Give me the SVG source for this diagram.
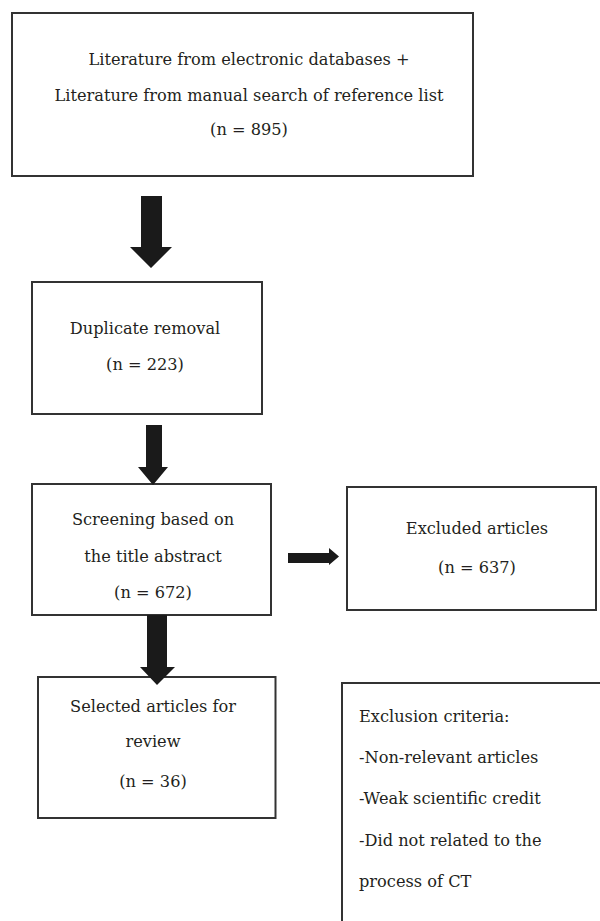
<svg xmlns="http://www.w3.org/2000/svg" width="600" height="921" viewBox="0 0 600 921">
<style>
.box{fill:#fff;stroke:#333;stroke-width:2}
text{font-family:"DejaVu Serif","Liberation Serif",serif;font-size:16.2px;fill:#231f20}
.c{text-anchor:middle}
.arr{fill:#1a1a1a}
</style>
<rect width="600" height="921" fill="#fff"/>
<g id="n1">
<rect class="box" x="12" y="13" width="461" height="163"/>
<text class="c" x="249" y="65">Literature from electronic databases +</text>
<text class="c" x="249" y="101">Literature from manual search of reference list</text>
<text class="c" x="249" y="135">(n = 895)</text>
</g>
<g id="n2">
<rect class="box" x="32" y="282" width="230" height="132"/>
<text class="c" x="145" y="334">Duplicate removal</text>
<text class="c" x="145" y="370">(n = 223)</text>
</g>
<g id="n3">
<rect class="box" x="32" y="484" width="239" height="131"/>
<text class="c" x="153" y="525">Screening based on</text>
<text class="c" x="153" y="561.5">the title abstract</text>
<text class="c" x="153" y="598">(n = 672)</text>
</g>
<g id="n4">
<rect class="box" x="347" y="487" width="249" height="123"/>
<text class="c" x="477" y="534">Excluded articles</text>
<text class="c" x="477" y="572.5">(n = 637)</text>
</g>
<g id="n5">
<rect class="box" x="38" y="677" width="237.5" height="141"/>
<text class="c" x="153" y="711.5">Selected articles for</text>
<text class="c" x="153" y="746.5">review</text>
<text class="c" x="153" y="786.5">(n = 36)</text>
</g>
<g id="n6">
<rect class="box" x="342" y="683" width="270" height="260"/>
<text x="359" y="721.5">Exclusion criteria:</text>
<text x="359" y="763">-Non-relevant articles</text>
<text x="359" y="804">-Weak scientific credit</text>
<text x="359" y="846">-Did not related to the</text>
<text x="359" y="887">process of CT</text>
</g>
<g id="connectors">
<polygon class="arr" points="141,196 162,196 162,247 172,247 151,268 130,247 141,247"/>
<polygon class="arr" points="146,425 162,425 162,467 168,467 153,485 138,467 146,467"/>
<polygon class="arr" points="147,615 167,615 167,667 175,667 157,685 140,667 147,667"/>
<polygon class="arr" points="288,553 329,553 329,548 339,556.5 329,565 329,563 288,563"/>
</g>
</svg>
